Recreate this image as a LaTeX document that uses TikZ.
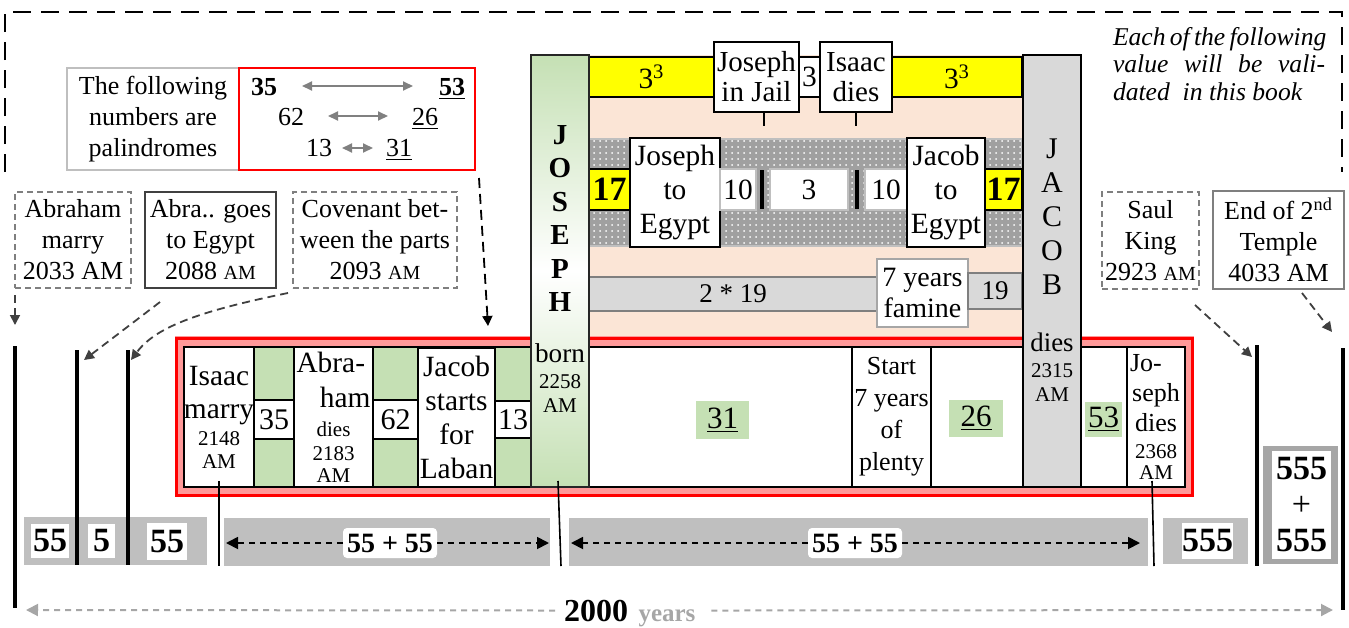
\documentclass[tikz,border=0pt]{standalone}
\usepackage{fontspec}
\setmainfont{Liberation Serif}
\usetikzlibrary{arrows.meta,patterns,calc}
\definecolor{grn}{HTML}{C5E0B4}
\definecolor{salm}{HTML}{FBE5D6}
\definecolor{yel}{HTML}{FFFF00}
\definecolor{colg}{HTML}{D9D9D9}
\definecolor{barg}{HTML}{BFBFBF}
\definecolor{pnk}{HTML}{FF9999}
\definecolor{dg}{HTML}{7F7F7F}
\definecolor{lg}{HTML}{A6A6A6}
\definecolor{dkg}{HTML}{404040}
\definecolor{dotg}{HTML}{A0A0A0}
\newcommand\fM{\fontsize{13}{15.5}\selectfont}
\newcommand\fL{\fontsize{14.7}{17}\selectfont}
\newcommand\fS{\fontsize{10.5}{12}\selectfont}
\newcommand\fSC{\fontsize{10}{12}\selectfont}
\newcommand\fI{\fontsize{12.8}{14}\selectfont\itshape}
\newcommand\fNum{\fontsize{17}{19}\selectfont\bfseries}
\newcommand\Rbx[7]{\node[#6, minimum width={(#4-#2)*0.5pt}, minimum height={(#5-#3)*0.5pt}] (#1) at ({(#2+#4)/2},{(#3+#5)/2}) {#7};}
\tikzset{
  bx/.style={draw=black,line width=0.9pt,fill=white},
  evbox/.style={draw=dg,line width=0.9pt,fill=white,font=\fM},
  evdash/.style={evbox,dash pattern=on 3pt off 2pt},
  yelbox/.style={draw=black,line width=0.9pt,fill=yel},
  gbox/.style={draw=barg,line width=0.9pt,fill=white,font=\fL},
  parr/.style={draw=gray,line width=1pt,{Triangle[length=5pt,width=4.5pt]}-{Triangle[length=5pt,width=4.5pt]}},
  larr/.style={draw=dkg,line width=0.9pt,dash pattern=on 4pt off 2.5pt,-{Triangle[length=5pt,width=5pt]}},
  barr/.style={draw=black,line width=0.9pt,dash pattern=on 3pt off 2.5pt,-{Triangle[length=6pt,width=6pt]}},
  garr/.style={draw=lg,line width=1pt,dash pattern=on 3pt off 2.5pt,-{Triangle[length=6pt,width=6pt]}},
  vline/.style={line width=1.6pt},
  thin/.style={line width=0.8pt},
  greennum/.style={fill=grn,font=\fontsize{15.5}{17}\selectfont}
}
\begin{document}
\begin{tikzpicture}[x=0.5pt,y=-0.5pt,every node/.style={inner sep=0pt,outer sep=0pt,align=center}]
\useasboundingbox (0,0) rectangle (1349,627);
% outer dashed frame
\draw[line width=1pt,dash pattern=on 9pt off 5pt] (5,172) -- (5,12) -- (1342,12) -- (1342,172);
% palindromes
\Rbx{pg}{67}{68}{239}{170}{draw=barg,line width=1pt,font=\fM}{The following\\numbers are\\palindromes}
\Rbx{pr}{239}{68}{475}{170}{draw=red,line width=1pt}{}
\node[anchor=base,font=\fM\bfseries] (n35) at (264,95) {35};
\node[anchor=base,font=\fM\bfseries] (n53) at (452,95) {\underline{53}};
\node[anchor=base,font=\fM] (n62) at (291,125) {62};
\node[anchor=base,font=\fM] (n26) at (425,125) {\underline{26}};
\node[anchor=base,font=\fM] (n13) at (319,156) {13};
\node[anchor=base,font=\fM] (n31) at (399,156) {\underline{31}};
\draw[parr,shorten <=12.5pt,shorten >=13pt] ([yshift=4.5pt]n35.base east) -- ([yshift=4.5pt]n53.base west);
\draw[parr,shorten <=12pt,shorten >=12pt] ([yshift=4.5pt]n62.base east) -- ([yshift=4.5pt]n26.base west);
\draw[parr,shorten <=5pt,shorten >=6.5pt] ([yshift=4pt]n13.base east) -- ([yshift=4pt]n31.base west);
% italic note
\node[anchor=base west,font=\fI] (it1) at (1113,45) {\makebox[106pt][s]{Each of the following}};
\node[anchor=base west,font=\fI] (it2) at (1113,72) {\makebox[106pt][s]{value will be vali-}};
\node[anchor=base west,font=\fI] (it3) at (1113,100) {dated\ \ in this book};
% event boxes
\Rbx{am}{15}{192}{131}{288}{evdash}{Abraham\\marry\\2033 AM}
\Rbx{ag}{145}{192}{276}{288}{evbox,draw=dkg}{Abra.. goes\\to Egypt\\2088 {\fSC AM}}
\Rbx{cv}{293}{192}{457}{288}{evdash}{Covenant bet-\\ween the parts\\2093 {\fSC AM}}
\Rbx{sk}{1102}{192}{1199}{289}{evdash}{Saul\\King\\2923 {\fSC AM}}
\Rbx{et}{1213}{191}{1344}{289}{evbox}{End of 2\textsuperscript{nd}\\Temple\\4033 AM}
% salmon region
\fill[salm] (589,55) rectangle (1022,340);
\Rbx{y1}{589}{57}{714}{97}{yelbox,font=\fL}{3\textsuperscript{3}}
\Rbx{jj}{714}{42}{799}{112}{bx,font=\fontsize{14.5}{15}\selectfont}{Joseph\\in Jail}
\Rbx{s3}{799}{57}{820}{97}{bx,font=\fL}{3}
\Rbx{idd}{820}{42}{892}{112}{bx,font=\fontsize{14.5}{15}\selectfont}{Isaac\\dies}
\Rbx{y2}{892}{57}{1022}{97}{yelbox,font=\fL}{3\textsuperscript{3}}
\draw[line width=1pt] ([xshift=3.75pt]jj.south) -- ++(0,14);
\draw[line width=1pt] (idd.south) -- ++(0,14);
% dotted band
\fill[dotg] (589,139) rectangle (1022,246);
\fill[pattern=dots,pattern color=white] (589,139) rectangle (1022,246);
\draw[barg,line width=0.8pt] (589,139) rectangle (1022,246);
\Rbx{l17}{589}{169}{630}{210}{yelbox,font=\fNum}{17}
\Rbx{jte}{630}{138}{720}{247}{bx,font=\fL}{Joseph\\to\\Egypt}
\Rbx{t10a}{720}{169}{756}{210}{gbox}{10}
\Rbx{t3}{770}{169}{848}{210}{gbox}{3}
\Rbx{t10b}{865}{169}{907}{210}{gbox}{10}
\Rbx{jce}{907}{138}{985}{247}{bx,font=\fL}{Jacob\\to\\Egypt}
\Rbx{r17}{985}{169}{1022}{210}{yelbox,font=\fNum}{17}
\draw[line width=1.6pt] (762,170) -- (762,209);
\draw[line width=1.6pt] (857,170) -- (857,209);
% famine row
\Rbx{b219}{589}{277}{877}{311}{draw=dg,line width=0.9pt,fill=colg,font=\fontsize{13.5}{15}\selectfont}{2 * 19}
\Rbx{fam}{877}{259}{968}{327}{draw=lg,line width=0.9pt,fill=white,font=\fontsize{14}{15.5}\selectfont}{7 years\\famine}
\Rbx{b19}{968}{273}{1022}{309}{draw=dg,line width=0.9pt,fill=colg,font=\fontsize{13.5}{15}\selectfont}{19}
% red band
\fill[pnk] (175,336) rectangle (1194,497);
\draw[red,line width=1.5pt] (176.5,338) rectangle (1192.5,495.5);
\draw[line width=0.9pt,fill=white] (184,347) rectangle (1185,487);
\draw[line width=0.9pt,fill=grn] (184,347) rectangle (531,487);
\Rbx{isb}{184}{347}{254}{487}{bx,font=\fL}{Isaac\\[-0.5pt]marry\\[-3.5pt]{\fS 2148}\\[-5.5pt]{\fS AM}}
\Rbx{b35}{254}{400}{294}{439}{bx,font=\fontsize{15}{17}\selectfont}{35}
\Rbx{abd}{294}{347}{373}{487}{bx,font=\fL}{\makebox[37pt][l]{Abra-}\\[0.5pt]\makebox[37pt][r]{ham}\\[-2.5pt]{\fS dies}\\[-5pt]{\fS 2183}\\[-6pt]{\fS AM}}
\Rbx{b62}{373}{400}{418}{439}{bx,font=\fontsize{15}{17}\selectfont}{62}
\Rbx{jsl}{418}{348}{495}{487}{bx,font=\fL}{Jacob\\starts\\for\\Laban}
\Rbx{b13}{495}{401}{531}{438}{bx,font=\fontsize{15}{17}\selectfont}{13}
\Rbx{g31}{696}{401}{749}{439}{greennum}{\underline{31}}
\Rbx{spl}{852}{347}{931}{487}{bx,font=\fontsize{13}{16}\selectfont}{Start\\7 years\\of\\plenty}
\Rbx{g26}{949}{400}{1003}{437}{greennum}{\underline{26}}
\Rbx{g53}{1085}{402}{1122}{437}{greennum}{\underline{53}}
\Rbx{jd}{1127}{347}{1185}{487}{bx,font=\fontsize{13}{15}\selectfont}{\makebox[26pt][l]{Jo-}\\seph\\dies\\[-1.5pt]{\fS 2368}\\[-4.5pt]{\fS AM}}
% Joseph column
\Rbx{jcol}{531}{55}{589}{487}{draw=black!85,line width=0.9pt,top color=grn,bottom color=grn,middle color=white}{}
\node[font=\fontsize{14.5}{16.7}\selectfont\bfseries] (jname) at (560,218.5) {J\\O\\S\\E\\P\\H};
\node[font=\fontsize{13.6}{17}\selectfont] (jborn) at (560,378) {born\\[-4pt]{\fS 2258}\\[-5pt]{\fS AM}};
% Jacob column
\Rbx{kcol}{1023}{55}{1081}{487}{draw=black,line width=0.9pt,fill=colg}{}
\node[font=\fontsize{15}{17}\selectfont] (kname) at (1052,216.5) {J\\A\\C\\O\\B};
\node[font=\fontsize{13.4}{15}\selectfont] (kdies) at (1052,367) {dies\\[-2pt]{\fS 2315}\\[-3pt]{\fS AM}};
% coordinates
\coordinate (isL) at (219,566);
\coordinate (jL) at (561,566);
\coordinate (jdL) at (1154,566);
\coordinate (l1a) at (15,346); \coordinate (l1b) at (15,608);
\coordinate (l2a) at (77,350); \coordinate (l2b) at (77,565);
\coordinate (l3a) at (128,350); \coordinate (l3b) at (128,565);
\coordinate (r1a) at (1257,345); \coordinate (r1b) at (1257,566);
\coordinate (r2a) at (1343,348); \coordinate (r2b) at (1343,610);
\coordinate (amT) at (15,325);
\coordinate (agS) at (160,302); \coordinate (agT) at (84,360);
\coordinate (cvS) at (288,293); \coordinate (cvT) at (131,360);
\coordinate (palS) at (479,178); \coordinate (palT) at (488,326);
\coordinate (skS) at (1195,305); \coordinate (skT) at (1252,357);
\coordinate (etS) at (1302,293); \coordinate (etT) at (1332,332);
% event connectors
\draw[larr] ([yshift=-3.5pt]am.south west) -- (amT);
\draw[larr] (agS) -- (agT);
\draw[larr] (cvS) .. controls (195,312) and (155,328) .. (cvT);
\draw[barr,draw=black,dash pattern=on 5pt off 3pt,-{Triangle[length=5pt,width=5pt]}] (palS) -- (palT);
\draw[larr] (skS) -- (skT);
\draw[larr] (etS) -- (etT);
% thin lines down
\draw[thin] ([yshift=3pt]isb.south) -- (isL);
\draw[thin] ([xshift=-1pt,yshift=3pt]jcol.south) -- (jL);
\draw[thin] ([xshift=-2pt,yshift=3pt]jd.south) -- (jdL);
% bottom bars
\fill[barg] (24,517) rectangle (207,565);
\Rbx{b55a}{31}{524}{69}{558}{fill=white,font=\fNum}{55}
\Rbx{b5}{88}{524}{115}{558}{fill=white,font=\fNum}{5}
\Rbx{b55b}{147}{523}{187}{560}{fill=white,font=\fNum}{55}
\fill[barg] (224,518) rectangle (550,566);
\node[fill=white,rounded corners=2pt,font=\fontsize{14}{16}\selectfont\bfseries,minimum width=47pt,minimum height=15pt] (lb1) at (390,543) {55 + 55};
\coordinate (a1L) at (226,543); \coordinate (a1R) at (549,543);
\draw[barr] (lb1.west) -- (a1L);
\draw[barr] (lb1.east) -- (a1R);
\fill[barg] (569,518) rectangle (1148,566);
\node[fill=white,rounded corners=2pt,font=\fontsize{14}{16}\selectfont\bfseries,minimum width=47pt,minimum height=15pt] (lb2) at (855,543) {55 + 55};
\coordinate (a2L) at (571,543); \coordinate (a2R) at (1140,543);
\draw[barr] (lb2.west) -- (a2L);
\draw[barr] (lb2.east) -- (a2R);
\fill[barg] (1163,518) rectangle (1248,564);
\Rbx{b555}{1183}{523}{1232}{559}{fill=white,font=\fNum}{555}
\fill[lg] (1263,446) rectangle (1338,564);
\Rbx{b555b}{1272}{451}{1331}{559}{fill=white,font=\fontsize{17}{18}\selectfont\bfseries}{555\\{\mdseries +}\\555}
% vertical lines
\draw[vline] (l1a) -- (l1b);
\draw[vline] (l2a) -- (l2b);
\draw[vline] (l3a) -- (l3b);
\draw[vline] (r1a) -- (r1b);
\draw[vline] (r2a) -- (r2b);
% 2000 years
\node[anchor=base,font=\fontsize{16}{18}\selectfont\bfseries] (t2000) at (596,621) {2000};
\node[anchor=base,font=\fontsize{12.5}{14}\selectfont\bfseries,text=lg] (tyears) at (667,621) {years};
\coordinate (gL) at (26,610); \coordinate (gR) at (1333,610);
\draw[garr,shorten <=4.5pt] (t2000.west) -- (gL);
\draw[garr] ($(tyears.east |- t2000.west)+(8pt,0)$) -- (gR);
\end{tikzpicture}
\end{document}
